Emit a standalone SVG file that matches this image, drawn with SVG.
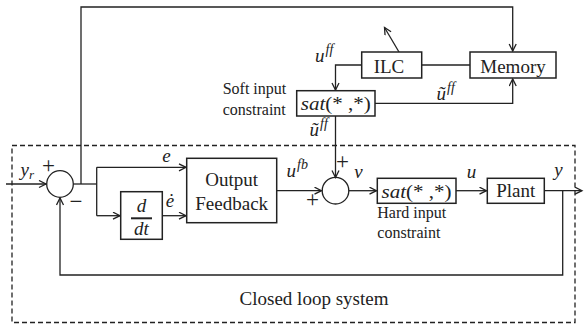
<svg xmlns="http://www.w3.org/2000/svg" width="584" height="324" viewBox="0 0 584 324" font-family="Liberation Serif, Times New Roman, DejaVu Serif, serif">
<defs>
<style>
.ln{fill:none;stroke:#222;stroke-width:1.3}
.bx{fill:#fff;stroke:#222;stroke-width:1.5}
.t{fill:#222}
.m{font-style:italic;fill:#222}
.big{font-size:19px}
.sm{font-size:16px}
.pm{font-size:23px;fill:#222}
</style>
<marker id="a" markerUnits="userSpaceOnUse" markerWidth="10" markerHeight="10" refX="8" refY="4" orient="auto">
<path d="M1,0.5 L8,4 L1,7.5" fill="none" stroke="#222" stroke-width="1.3"/>
</marker>
</defs>
<rect x="0" y="0" width="584" height="324" fill="#fff"/>
<g id="boundary">
<rect x="12" y="145.5" width="563" height="177" fill="none" stroke="#222" stroke-width="1.3" stroke-dasharray="5,3"/>
<text class="t big" x="314" y="305" text-anchor="middle">Closed loop system</text>
</g>
<g id="connectors">
<path class="ln" d="M81,184 V7 H512.7 V51" marker-end="url(#a)"/>
<path class="ln" d="M6,184 H46" marker-end="url(#a)"/>
<path class="ln" d="M73.3,184 H96.7"/>
<path class="ln" d="M96.7,167.3 V215.7"/>
<path class="ln" d="M96.7,167.3 H186" marker-end="url(#a)"/>
<path class="ln" d="M96.7,215.7 H120" marker-end="url(#a)"/>
<path class="ln" d="M162.3,215.7 H186" marker-end="url(#a)"/>
<path class="ln" d="M276.7,190.7 H321.5" marker-end="url(#a)"/>
<path class="ln" d="M335.5,116 V177.5" marker-end="url(#a)"/>
<path class="ln" d="M348.8,190.7 H376.5" marker-end="url(#a)"/>
<path class="ln" d="M456,190.7 H486.5" marker-end="url(#a)"/>
<path class="ln" d="M544.3,190.7 H582" marker-end="url(#a)"/>
<path class="ln" d="M562.7,190.7 V275 H60 V198" marker-end="url(#a)"/>
<path class="ln" d="M361.7,65 H335.5 V90" marker-end="url(#a)"/>
<path class="ln" d="M406.7,65 H470"/>
<path class="ln" d="M406.7,65 L384.5,27.5" marker-end="url(#a)"/>
<path class="ln" d="M375,103.3 H512.7 V79" marker-end="url(#a)"/>
</g>
<g id="sum1">
<circle cx="60" cy="184" r="13.3" class="ln"/>
<text class="pm" x="48.5" y="173" text-anchor="middle">+</text>
<text class="pm" x="76" y="209" text-anchor="middle">−</text>
</g>
<g id="sum2">
<circle cx="335.5" cy="190.7" r="13.3" class="ln"/>
<text class="pm" x="342.5" y="169" text-anchor="middle">+</text>
<text class="pm" x="312.5" y="207" text-anchor="middle">+</text>
</g>
<g id="deriv">
<rect class="bx" x="120.7" y="191.7" width="41.6" height="47.6"/>
<text class="m big" x="141.5" y="211.5" text-anchor="middle">d</text>
<line x1="131" y1="218.3" x2="152" y2="218.3" stroke="#222" stroke-width="2"/>
<text class="m big" x="141.5" y="235" text-anchor="middle">dt</text>
</g>
<g id="output-feedback">
<rect class="bx" x="186.7" y="158.3" width="90" height="64.4"/>
<text class="t big" x="231.7" y="185.5" text-anchor="middle">Output</text>
<text class="t big" x="231.7" y="209.5" text-anchor="middle">Feedback</text>
</g>
<g id="hard-sat">
<rect class="bx" x="377.3" y="178.3" width="78.7" height="25"/>
<text class="t big" x="416.6" y="197.5" text-anchor="middle" textLength="70" lengthAdjust="spacingAndGlyphs"><tspan font-style="italic">sat</tspan>(* ,*)</text>
<text class="t sm" x="377.3" y="218">Hard input</text>
<text class="t sm" x="377.3" y="237.5">constraint</text>
</g>
<g id="plant">
<rect class="bx" x="487.3" y="178.3" width="57" height="25"/>
<text class="t big" x="515.8" y="196.7" text-anchor="middle">Plant</text>
</g>
<g id="ilc">
<rect class="bx" x="361.7" y="52" width="60" height="26"/>
<text class="t big" x="389" y="72.5" text-anchor="middle">ILC</text>
</g>
<g id="memory">
<rect class="bx" x="470" y="52" width="86" height="26"/>
<text class="t big" x="513" y="72.5" text-anchor="middle">Memory</text>
</g>
<g id="soft-sat">
<rect class="bx" x="296.7" y="90.7" width="78.3" height="25.3"/>
<text class="t big" x="335.8" y="110" text-anchor="middle" textLength="70" lengthAdjust="spacingAndGlyphs"><tspan font-style="italic">sat</tspan>(* ,*)</text>
<text class="t sm" x="222.7" y="94">Soft input</text>
<text class="t sm" x="222.7" y="115">constraint</text>
</g>
<g id="labels">
<text class="m big" x="20.5" y="176">y<tspan font-size="13" dy="3">r</tspan></text>
<text class="m big" x="166.5" y="161.7" text-anchor="middle">e</text>
<text class="m big" x="170" y="206.5" text-anchor="middle">ė</text>
<text class="m big" x="286.5" y="177">u<tspan font-size="14" dy="-8" dx="1">fb</tspan></text>
<text class="m big" x="358.5" y="178" text-anchor="middle">v</text>
<text class="m big" x="471.5" y="178" text-anchor="middle">u</text>
<text class="m big" x="558.5" y="176" text-anchor="middle">y</text>
<text class="m big" x="315" y="61.5">u<tspan font-size="14" dy="-8" dx="1">ff</tspan></text>
<text class="m big" x="436.5" y="99.5">ũ<tspan font-size="14" dy="-8" dx="1">ff</tspan></text>
<text class="m big" x="309.5" y="136">ũ<tspan font-size="14" dy="-8" dx="1">ff</tspan></text>
</g>
</svg>
